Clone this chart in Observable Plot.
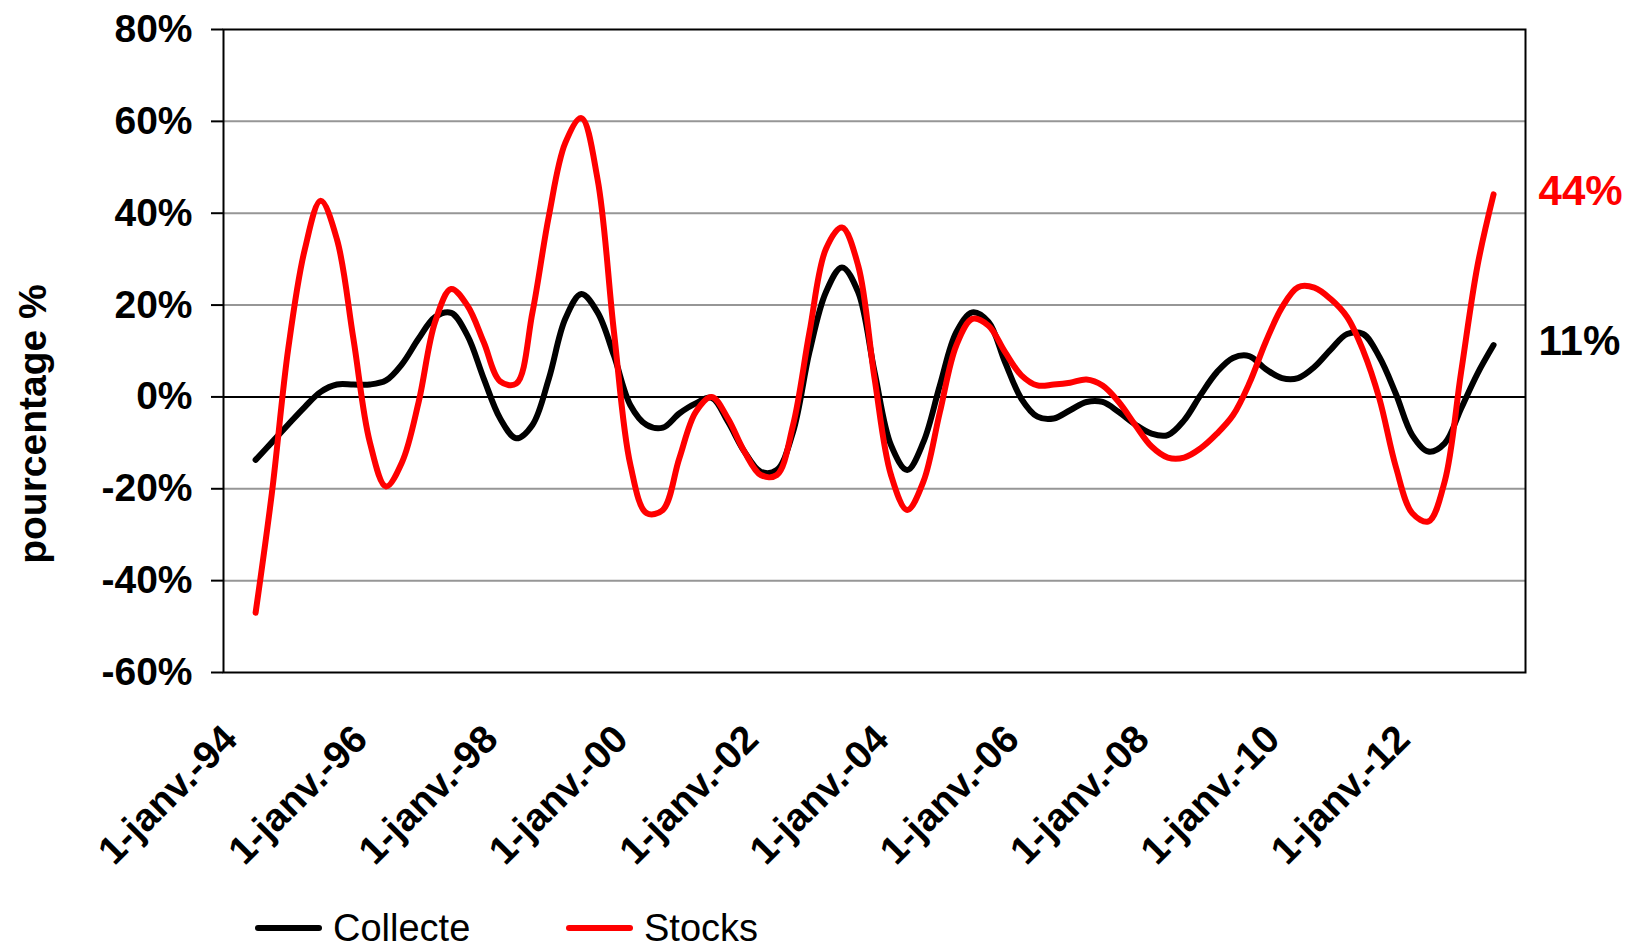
<!DOCTYPE html>
<html>
<head>
<meta charset="utf-8">
<script src="https://cdn.jsdelivr.net/npm/d3@7"></script>
<script src="https://cdn.jsdelivr.net/npm/@observablehq/plot@0.6"></script>
<style>
  html, body { margin: 0; padding: 0; background: #fff; }
  #chart { width: 1630px; height: 890px; }
  #legend { position: relative; width: 1630px; height: 56px; font-family: "Liberation Sans", Arial, sans-serif; font-size: 38px; color: #000; }
  #legend .sw { position: absolute; height: 6px; border-radius: 3px; top: 35px; }
  #legend .lb { position: absolute; top: 19px; line-height: 38px; white-space: nowrap; }
</style>
</head>
<body>
<div id="chart"></div>
<div id="legend"></div>
<script>
// Quarterly observation dates
const quarters = [
  "1994-04","1994-07","1994-10",
  "1995-01","1995-04","1995-07","1995-10",
  "1996-01","1996-04","1996-07","1996-10",
  "1997-01","1997-04","1997-07","1997-10",
  "1998-01","1998-04","1998-07","1998-10",
  "1999-01","1999-04","1999-07","1999-10",
  "2000-01","2000-04","2000-07","2000-10",
  "2001-01","2001-04","2001-07","2001-10",
  "2002-01","2002-04","2002-07","2002-10",
  "2003-01","2003-04","2003-07","2003-10",
  "2004-01","2004-04","2004-07","2004-10",
  "2005-01","2005-04","2005-07","2005-10",
  "2006-01","2006-04","2006-07","2006-10",
  "2007-01","2007-04","2007-07","2007-10",
  "2008-01","2008-04","2008-07","2008-10",
  "2009-01","2009-04","2009-07","2009-10",
  "2010-01","2010-04","2010-07","2010-10",
  "2011-01","2011-04","2011-07","2011-10",
  "2012-01","2012-04","2012-07","2012-10",
  "2013-01","2013-04"
];

// Collecte (% change)
const collecte = [
  -13.7,-9.9,-6.0,-2.2,1.1,2.7,2.7,2.7,3.6,7.2,
  12.7,17.4,18.3,13.4,4.0,-4.7,-9.0,-6.1,4.0,17.0,
  22.4,18.4,9.0,-1.8,-6.1,-6.7,-3.6,-1.4,-0.2,-5.4,
  -11.9,-16.3,-15.9,-7.6,9.8,22.8,28.2,22.8,5.4,-10.5,
  -15.9,-9.8,2.5,14.1,18.4,16.3,7.6,-0.4,-4.3,-4.7,
  -2.9,-1.1,-1.1,-3.3,-6.0,-8.0,-8.3,-5.1,0.4,5.4,
  8.5,8.9,6.1,4.1,4.1,6.5,10.3,13.7,13.7,8.7,
  0.7,-8.3,-11.9,-10.1,-2.5,5.1,11.3
];

// Stocks (% change)
const stocks = [
  -47.0,-21.0,10.5,32.0,42.7,34.3,12.7,-9.8,-19.5,-14.1,
  -1.1,16.3,23.5,19.9,11.9,3.4,2.9,18.4,39.4,55.3,
  60.7,47.4,14.1,-14.8,-25.3,-24.6,-13.4,-3.3,0.0,-4.7,
  -11.9,-17.0,-17.0,-6.1,14.1,32.2,36.9,28.6,4.0,-17.0,
  -24.6,-18.4,-3.3,11.2,17.0,15.5,9.8,4.7,2.5,2.7,
  3.1,3.8,2.5,-1.1,-6.1,-10.8,-13.2,-13.2,-11.2,-8.0,
  -4.0,2.9,11.9,19.5,23.9,23.8,21.3,17.4,10.1,-0.4,
  -15.2,-25.3,-27.1,-18.4,5.4,28.6,44.1
];

const seriesNames = ["Collecte", "Stocks"];
const seriesColors = ["#000000", "#ff0000"];
const endLabels = ["11%", "44%"];

const yTicks = [-60, -40, -20, 0, 20, 40, 60, 80];
const yGrid = [-40, -20, 20, 40, 60];
const xTickDates = ["1994-01","1996-01","1998-01","2000-01","2002-01","2004-01","2006-01","2008-01","2010-01","2012-01"];
const xTickLabels = ["1-janv.-94","1-janv.-96","1-janv.-98","1-janv.-00","1-janv.-02","1-janv.-04","1-janv.-06","1-janv.-08","1-janv.-10","1-janv.-12"];
const yTitle = "pourcentage %";

const parse = d3.utcParse("%Y-%m");
const dates = quarters.map(parse);
const tickDates = xTickDates.map(parse);
const tickTimes = tickDates.map(d => +d);
const rowsC = dates.map((d, i) => ({date: d, value: collecte[i]}));
const rowsS = dates.map((d, i) => ({date: d, value: stocks[i]}));
const lastC = rowsC[rowsC.length - 1];
const lastS = rowsS[rowsS.length - 1];

const FONT = '"Liberation Sans", Arial, sans-serif';

const chart = Plot.plot({
  width: 1630,
  height: 890,
  marginLeft: 223,
  marginRight: 105,
  marginTop: 29,
  marginBottom: 218,
  style: {fontFamily: FONT, background: "#fff", color: "#000", overflow: "visible"},
  x: {type: "utc", domain: [new Date(Date.UTC(1993, 9, 3)), new Date(Date.UTC(2013, 8, 27))]},
  y: {domain: [-60, 80]},
  marks: [
    Plot.ruleY(yGrid, {stroke: "#969696", strokeWidth: 2}),
    Plot.ruleY([0], {stroke: "#000", strokeWidth: 2}),
    Plot.lineY(rowsC, {x: "date", y: "value", stroke: seriesColors[0], strokeWidth: 6, curve: "catmull-rom", strokeLinecap: "round", strokeLinejoin: "round"}),
    Plot.lineY(rowsS, {x: "date", y: "value", stroke: seriesColors[1], strokeWidth: 6, curve: "catmull-rom", strokeLinecap: "round", strokeLinejoin: "round"}),
    Plot.frame({stroke: "#000", strokeWidth: 2}),
    Plot.axisY(yTicks, {
      tickFormat: d => d + "%", tickSize: 12, tickPadding: 19,
      fontSize: 39, fontWeight: "bold", stroke: "#000", strokeWidth: 2, label: null
    }),
    Plot.axisX(tickDates, {
      tickFormat: d => xTickLabels[tickTimes.indexOf(+d)],
      tickRotate: -45, tickSize: 0, tickPadding: 60, dx: -9,
      fontSize: 39, fontWeight: "bold", label: null
    }),
    Plot.text([yTitle], {text: d => d, frameAnchor: "left", textAnchor: "middle", dx: -190, dy: 73, rotate: -90, fontSize: 39, fontWeight: "bold", fill: "#000"}),
    Plot.text([lastC], {x: "date", y: "value", text: () => endLabels[0], dx: 45, dy: -3, textAnchor: "start", fontSize: 42, fontWeight: "bold", fill: seriesColors[0]}),
    Plot.text([lastS], {x: "date", y: "value", text: () => endLabels[1], dx: 45, dy: -3, textAnchor: "start", fontSize: 42, fontWeight: "bold", fill: seriesColors[1]})
  ]
});
document.getElementById("chart").appendChild(chart);

// Legend below the chart
const legend = document.getElementById("legend");
const swatchX = [255, 566];
const labelX = [333, 644];
seriesNames.forEach((name, i) => {
  const sw = document.createElement("div");
  sw.className = "sw";
  sw.style.left = swatchX[i] + "px";
  sw.style.width = "67px";
  sw.style.background = seriesColors[i];
  legend.appendChild(sw);
  const lb = document.createElement("div");
  lb.className = "lb";
  lb.style.left = labelX[i] + "px";
  lb.textContent = name;
  legend.appendChild(lb);
});
</script>
</body>
</html>
